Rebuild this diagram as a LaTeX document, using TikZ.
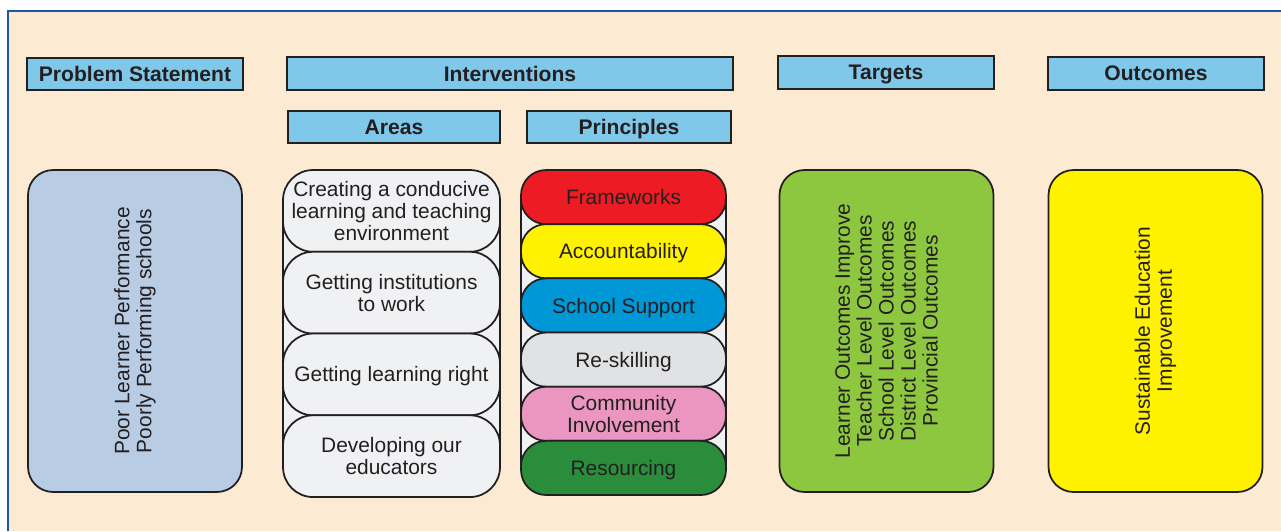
\documentclass[tikz,border=0pt]{standalone}
\usepackage{fontspec}
\setmainfont{Liberation Sans}
\usetikzlibrary{positioning}
\definecolor{pagebg}{HTML}{FDEAD3}
\definecolor{frameblue}{HTML}{1E56A8}
\definecolor{hdrblue}{HTML}{7FC8EA}
\definecolor{probblue}{HTML}{B8CCE4}
\definecolor{pillgray}{HTML}{F0F1F3}
\definecolor{inkc}{HTML}{231F20}
\definecolor{redc}{HTML}{ED1C24}
\definecolor{yellowc}{HTML}{FFF200}
\definecolor{bluec}{HTML}{0097D7}
\definecolor{grayc}{HTML}{E1E2E4}
\definecolor{pinkc}{HTML}{EA96C1}
\definecolor{greenc}{HTML}{2A8D3B}
\definecolor{limec}{HTML}{8DC63F}
\newcommand{\diagfont}{\fontsize{11.9}{12.5}\selectfont}

\begin{document}
\begin{tikzpicture}[
    x=0.02cm, y=-0.02cm,
    header/.style={rectangle, draw=inkc, fill=hdrblue, line width=1pt, minimum height=0.65cm, inner sep=0pt, text depth=0pt, text=inkc, font=\bfseries\fontsize{12}{14}\selectfont},
    bigbox/.style={rectangle, draw=inkc, line width=1pt, rounded corners=0.5cm, rotate=90, minimum width=6.44cm, minimum height=4.28cm, align=center, text=inkc, font=\diagfont},
    column/.style={draw=inkc, fill=pillgray, line width=1pt},
    areapill/.style={rectangle, draw=inkc, fill=pillgray, line width=1pt, rounded corners=0.6cm, minimum width=4.34cm, minimum height=1.635cm, inner sep=0pt, text depth=-0.12cm, align=center, text=inkc, font=\diagfont},
    princpill/.style={rectangle, draw=inkc, line width=1pt, rounded corners=0.5cm, minimum width=4.1cm, minimum height=1.083cm, inner sep=0pt, text depth=0pt, align=center, text=inkc, font=\diagfont}
]
\useasboundingbox (0,0) rectangle (1281,531);
\fill[white] (0,0) rectangle (1281,531);
\fill[pagebg] (8,11) rectangle (1281,531);
\draw[frameblue, line width=1.5pt] (8,531) -- (8,11) -- (1281,11);

% headers
\node[header, minimum width=4.32cm] (problem) at (135,74) {Problem Statement};
\node[header, minimum width=8.92cm] (interv) at (510,73.5) {Interventions};
\node[header, minimum width=4.24cm] (areas) at (394,127) {Areas};
\node[header, minimum width=4.08cm] (princ) at (629,127) {Principles};
\node[header, minimum width=4.32cm] (targets) at (886,72.5) {Targets};
\node[header, minimum width=4.32cm] (outcomes) at (1156,73.5) {Outcomes};

% main boxes
\node[bigbox, fill=probblue] (poor) at (135,331) {Poor Learner Performance\\Poorly Performing schools};
\node[bigbox, fill=limec] (levels) at (886.5,331) {Learner Outcomes Improve\\Teacher Level Outcomes\\School Level Outcomes\\District Level Outcomes\\Provincial Outcomes};
\node[bigbox, fill=yellowc] (sustain) at (1155.5,331) {Sustainable Education\\Improvement};

% areas column
\draw[column] (283,205) rectangle (500,462);
\foreach \txt [count=\i] in {{Creating a conducive\\learning and teaching\\environment}, {Getting institutions\\to work}, {Getting learning right}, {Developing our\\educators}}
  \node[areapill] (a\i) at (391.5,{170+40.9+(\i-1)*81.75}) {\txt};

% principles column
\draw[column] (521,197) rectangle (726,468);
\foreach \txt/\col [count=\i] in {Frameworks/redc, Accountability/yellowc, School Support/bluec, Re-skilling/grayc, {Community\\Involvement}/pinkc, Resourcing/greenc}
  \node[princpill, fill=\col] (p\i) at (623.5,{170+27.08+(\i-1)*54.17}) {\txt};
\end{tikzpicture}
\end{document}
